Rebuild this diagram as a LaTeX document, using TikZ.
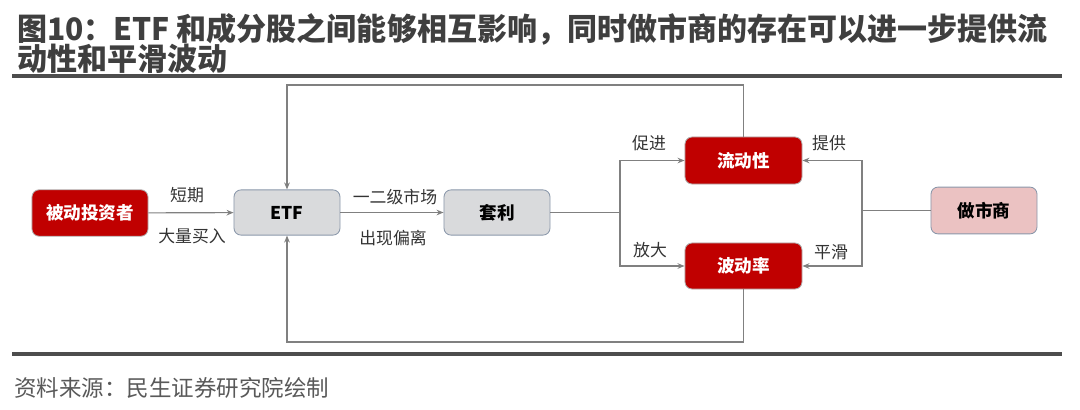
\documentclass[tikz,border=0pt]{standalone}
\usepackage{fontspec}
\setmainfont{Noto Sans CJK SC}
\usetikzlibrary{arrows.meta}
\definecolor{titlegray}{HTML}{3F3F3F}
\definecolor{rulegray}{HTML}{4D4D4D}
\definecolor{srcgray}{HTML}{595959}
\definecolor{darkred}{HTML}{C00000}
\definecolor{boxgray}{HTML}{D9DADC}
\definecolor{boxedge}{HTML}{8A97AA}
\definecolor{pinkfill}{HTML}{EBC2C2}
\definecolor{linegray}{HTML}{808080}
\definecolor{labelgray}{HTML}{333333}
\begin{document}
\begin{tikzpicture}[x=0.025cm,y=-0.025cm,
  basebox/.style={rounded corners=5pt, inner sep=0pt, line width=0.6pt},
  redbox/.style={basebox, fill=darkred, draw=gray!60, text=white, minimum width=2.9cm, minimum height=1.16cm, font=\fontsize{12.5}{14}\selectfont\bfseries},
  graybox/.style={basebox, fill=boxgray, draw=boxedge, text=black, minimum width=2.65cm, minimum height=1.13cm, font=\fontsize{12.5}{14}\selectfont\bfseries},
  pinkbox/.style={basebox, fill=pinkfill, draw=boxedge, text=black, minimum width=2.65cm, minimum height=1.17cm, font=\fontsize{12.5}{14}\selectfont\bfseries},
  lbl/.style={text=labelgray, inner sep=0pt, font=\fontsize{12}{14}\selectfont},
  wire/.style={draw=linegray, line width=0.8pt},
  conn/.style={wire, -{Stealth[length=5pt,width=4pt]}},
  titletext/.style={anchor=base west, inner sep=0pt, text=titlegray, xscale=0.97, transform shape, font=\fontsize{22}{26}\selectfont\bfseries},
  hrule/.style={draw=rulegray, line width=2.2pt}
]
\useasboundingbox (0,0) rectangle (1080,409);
% title
\node[titletext] (t1) at (17,40) {图10：ETF 和成分股之间能够相互影响，同时做市商的存在可以进一步提供流};
\node[titletext] (t2) at (17,70) {动性和平滑波动};
\coordinate (r1a) at (12,76);
\coordinate (r1b) at (1062,76);
\draw[hrule] (r1a) -- (r1b);
\coordinate (r2a) at (12,354);
\coordinate (r2b) at (1062,354);
\draw[hrule] (r2a) -- (r2b);
\node[anchor=base west, inner sep=0pt, text=srcgray, font=\fontsize{16}{18}\selectfont] (src) at (14,396) {资料来源：民生证券研究院绘制};

% nodes
\node[redbox] (inv) at (90,213) {被动投资者};
\node[graybox] (etf) at (287,212.5) {ETF};
\node[graybox] (arb) at (497,212.5) {套利};
\node[redbox, minimum width=2.925cm, minimum height=1.175cm] (liq) at (743.5,160.5) {流动性};
\node[redbox, minimum width=2.925cm, minimum height=1.15cm] (vol) at (743.5,266) {波动率};
\node[pinkbox] (mm) at (984,210.5) {做市商};

% connectors
\draw[conn] (inv) -- (etf);
\draw[conn] (etf) -- (arb);
\coordinate (j1) at (620,212.5);
\draw[wire] (arb) -- (j1);
\draw[conn] (j1) |- (liq);
\draw[conn] (j1) |- (vol);
\coordinate (j2) at (862,210.5);
\draw[wire] (mm) -- (j2);
\draw[conn] (j2) |- (liq);
\draw[conn] (j2) |- (vol);
\coordinate (toprow) at (0,85);
\coordinate (botrow) at (0,342);
\draw[conn] (liq.north) -- (liq.north |- toprow) -| (etf.north);
\draw[conn] (vol.south) -- (vol.south |- botrow) -| (etf.south);

% labels
\node[lbl] (l1) at (187,195) {短期};
\node[lbl] (l2) at (192,236) {大量买入};
\node[lbl] (l3) at (395,197) {一二级市场};
\node[lbl] (l4) at (393,238) {出现偏离};
\node[lbl] (l5) at (649,143) {促进};
\node[lbl] (l6) at (650,250) {放大};
\node[lbl] (l7) at (829,143) {提供};
\node[lbl] (l8) at (831,252) {平滑};
\end{tikzpicture}
\end{document}
